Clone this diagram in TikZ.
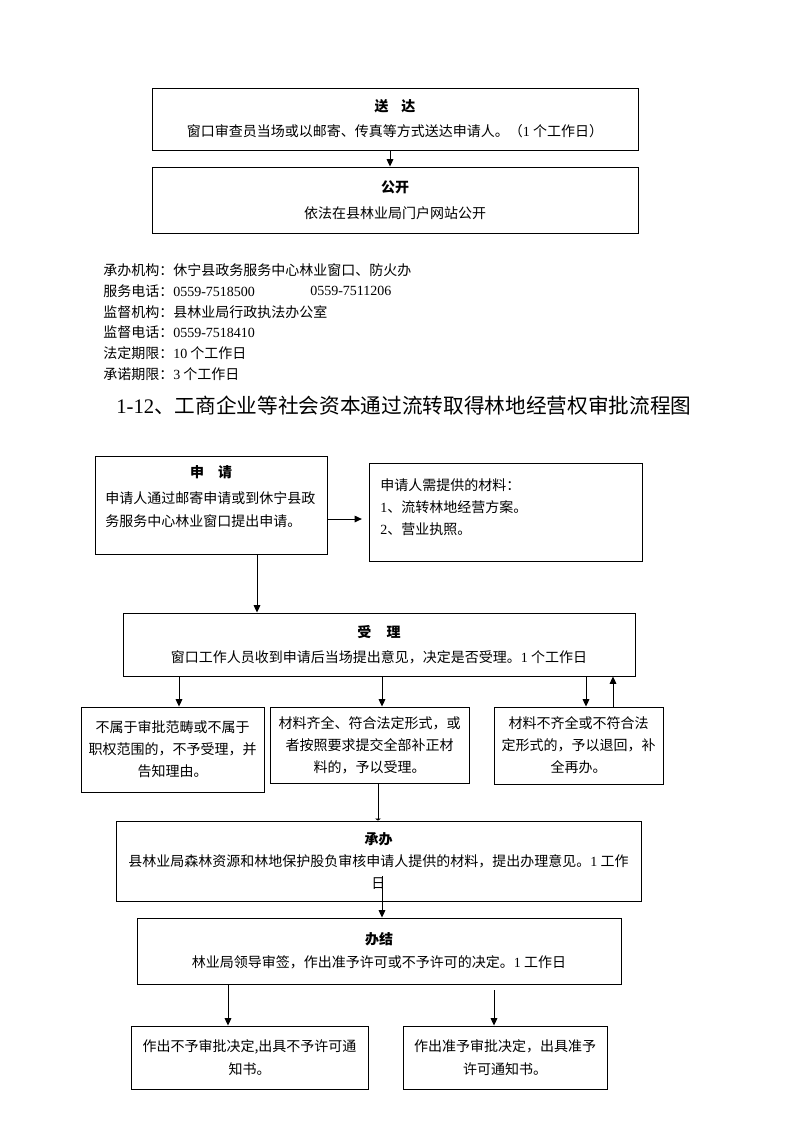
\documentclass[tikz,border=0pt]{standalone}
\usepackage{fontspec}
\setmainfont{Liberation Serif}
\newfontfamily\cjk{Noto Sans CJK SC}
\usetikzlibrary{arrows.meta}
\newcommand\lat[1]{{\rmfamily #1}}
\begin{document}
\begin{tikzpicture}[x=0.75pt,y=-0.75pt,
  box/.style={draw, line width=0.7pt, inner sep=0pt, align=center,
    font=\cjk\fontsize{10.5pt}{16.5pt}\selectfont},
  txt/.style={inner sep=0pt, font=\cjk\fontsize{10.5pt}{16.5pt}\selectfont},
  info/.style={anchor=west, inner sep=0pt, font=\cjk\fontsize{10.5pt}{15pt}\selectfont},
  arr/.style={-{Triangle[length=5.5pt,width=5pt]}, line width=0.7pt},
  tick/.style={-{Triangle[length=1.5pt,width=4.5pt]}, line width=0.7pt}]
\useasboundingbox[fill=white] (0,0) rectangle (794,1122);

% top section
\node[box, minimum width=364.5pt, minimum height=46.5pt] (sd) at (395,119)
  {\bfseries 送\hspace{0.9em}达\\[2.25pt]窗口审查员当场或以邮寄、传真等方式送达申请人。（\lat{1} 个工作日）};
\node[box, minimum width=364.5pt, minimum height=49.5pt] (gk) at (395,200)
  {\bfseries 公开\\[3pt]依法在县林业局门户网站公开};
\coordinate (xs) at (390,0);
\draw[arr] (sd.south -| xs) -- (gk.north -| xs);

% info lines
\node[info] (i1) at (103,270) {承办机构：休宁县政务服务中心林业窗口、防火办};
\node[info] (i2) at (103,291) {服务电话：\lat{0559-7518500}};
\node[info] (i2b) at (310,291) {\lat{0559-7511206}};
\node[info] (i3) at (103,312) {监督机构：县林业局行政执法办公室};
\node[info] (i4) at (103,332) {监督电话：\lat{0559-7518410}};
\node[info] (i5) at (103,353) {法定期限：\lat{10} 个工作日};
\node[info] (i6) at (103,374) {承诺期限：\lat{3} 个工作日};

% title
\node[inner sep=0pt, font=\cjk\fontsize{15.5pt}{18pt}\selectfont] (title) at (404,406)
  {\lat{1-12}、工商企业等社会资本通过流转取得林地经营权审批流程图};

% apply
\node[box, minimum width=174pt, minimum height=73.5pt] (sq) at (211,505) {};
\node[txt, font=\cjk\bfseries\fontsize{10.5pt}{16.5pt}\selectfont] (sqt) at (211,472) {申\hspace{1em}请};
\node[txt, anchor=west, align=left, font=\cjk\fontsize{10.5pt}{17.25pt}\selectfont] (sqb) at (105,509.5)
  {申请人通过邮寄申请或到休宁县政\\务服务中心林业窗口提出申请。};
\node[box, minimum width=204.75pt, minimum height=73.5pt] (mat) at (505.5,512) {};
\node[txt, anchor=west, align=left, font=\cjk\fontsize{10.5pt}{16.5pt}\selectfont] (matt) at (380,507)
  {申请人需提供的材料：\\\lat{1}、流转林地经营方案。\\\lat{2}、营业执照。};
\coordinate (ya) at (0,519);
\draw[arr, shorten >=5pt] (sq.east |- ya) -- (mat.west |- ya);

% accept
\node[box, minimum width=384pt, minimum height=47.25pt] (sl) at (379,644.5)
  {\bfseries 受\hspace{1.1em}理\\[2.25pt]\mdseries 窗口工作人员收到申请后当场提出意见，决定是否受理。\lat{1} 个工作日};
\coordinate (xa) at (257,0);
\draw[arr] (sq.south -| xa) -- (sl.north -| xa);

% row boxes
\node[box, minimum width=137.25pt, minimum height=63.75pt] (r1) at (172.5,749.5)
  {不属于审批范畴或不属于\\职权范围的，不予受理，并\\告知理由。};
\node[box, minimum width=149.25pt, minimum height=57pt] (r2) at (369.5,745)
  {材料齐全、符合法定形式，或\\者按照要求提交全部补正材\\料的，予以受理。};
\node[box, minimum width=126.75pt, minimum height=57.75pt] (r3) at (578.5,745.5)
  {材料不齐全或不符合法\\定形式的，予以退回，补\\全再办。};
\coordinate (x1) at (179,0);
\coordinate (x2) at (382,0);
\coordinate (x3) at (586,0);
\coordinate (x4) at (613,0);
\draw[arr] (sl.south -| x1) -- (r1.north -| x1);
\draw[arr] (sl.south -| x2) -- (r2.north -| x2);
\draw[arr] (sl.south -| x3) -- (r3.north -| x3);
\draw[arr] (r3.north -| x4) -- (sl.south -| x4);

% handle
\node[box, minimum width=393.75pt, minimum height=60pt] (cb) at (378.5,861)
  {\bfseries 承办\\[0.5pt]\mdseries 县林业局森林资源和林地保护股负审核申请人提供的材料，提出办理意见。\lat{1} 工作\\日};
\coordinate (xm) at (378,0);
\draw[tick] (r2.south -| xm) -- (cb.north -| xm);

% finish
\node[box, minimum width=363pt, minimum height=49.5pt] (bj) at (379,951)
  {\bfseries 办结\\[0.75pt]\mdseries 林业局领导审签，作出准予许可或不予许可的决定。\lat{1} 工作日};
\coordinate (cbin) at (382,876);
\draw[arr] (cbin) -- (bj.north -| cbin);

% results
\node[box, minimum width=177.75pt, minimum height=47.25pt] (b1) at (249.5,1057.5)
  {作出不予审批决定,出具不予许可通\\[0.75pt]知书。};
\node[box, minimum width=153pt, minimum height=47.25pt] (b2) at (505,1057.5)
  {作出准予审批决定，出具准予\\[0.75pt]许可通知书。};
\coordinate (xb1) at (228,0);
\coordinate (b2top) at (494,990);
\draw[arr] (bj.south -| xb1) -- (b1.north -| xb1);
\draw[arr] (b2top) -- (b2.north -| b2top);
\end{tikzpicture}
\end{document}
